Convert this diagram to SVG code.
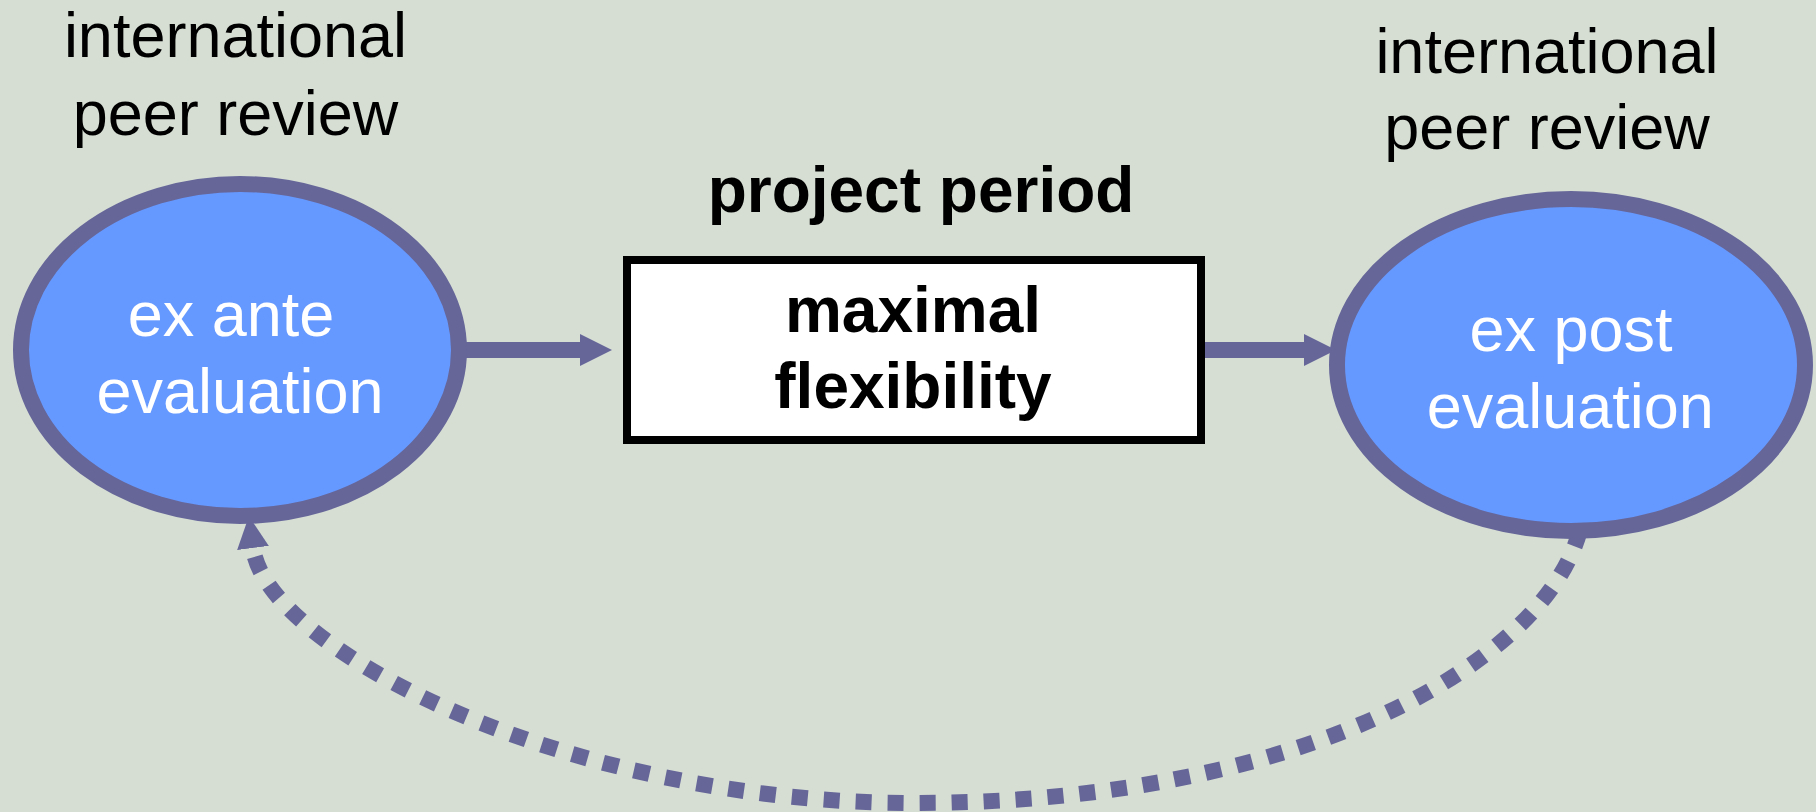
<svg xmlns="http://www.w3.org/2000/svg" width="1816" height="812" viewBox="0 0 1816 812">
<style>
.lbl{font-family:"Liberation Sans",Arial,sans-serif;font-size:63px;fill:#000;text-anchor:middle}
.in{font-family:"Liberation Sans",Arial,sans-serif;font-size:63px;fill:#fff;text-anchor:middle}
.bold{font-family:"Liberation Sans",Arial,sans-serif;font-size:64px;font-weight:bold;fill:#000;text-anchor:middle}
.ell{fill:#6699FF;stroke:#666699;stroke-width:16}
.conn{fill:none;stroke:#666699;stroke-width:16}
.dash{stroke-dasharray:16 16;stroke-dashoffset:23}
</style>
<defs>
<marker id="head" markerUnits="userSpaceOnUse" markerWidth="32" markerHeight="32" refX="0" refY="16" orient="auto-start-reverse" viewBox="0 0 32 32">
<path d="M0,0 L32,16 L0,32 Z" fill="#666699"/>
</marker>
</defs>
<rect width="1816" height="812" fill="#D6DED3"/>
<g id="connectors">
<line class="conn" x1="460" y1="350" x2="580" y2="350" marker-end="url(#head)"/>
<line class="conn" x1="1200" y1="350" x2="1304" y2="350" marker-end="url(#head)"/>
<path class="conn dash" d="M253,548 C266,648 564,803 914,803 C1294,803 1543.6,667 1580,530" marker-start="url(#head)"/>
</g>
<g id="label-left">
<text class="lbl" x="235.5" y="57.3">international</text>
<text class="lbl" x="235.5" y="135">peer review</text>
</g>
<g id="label-right">
<text class="lbl" x="1547" y="72.7">international</text>
<text class="lbl" x="1547" y="149.3">peer review</text>
</g>
<g id="label-project">
<text class="bold" x="921" y="211.7">project period</text>
</g>
<g id="node-exante">
<ellipse class="ell" cx="240" cy="350" rx="219" ry="166"/>
<text class="in" x="231" y="336">ex ante</text>
<text class="in" x="240" y="413.3">evaluation</text>
</g>
<g id="node-flex">
<rect x="627" y="260" width="574" height="180" fill="#fff" stroke="#000" stroke-width="8"/>
<text class="bold" x="913" y="331.7">maximal</text>
<text class="bold" x="913" y="408.3">flexibility</text>
</g>
<g id="node-expost">
<ellipse class="ell" cx="1571" cy="365" rx="234" ry="166"/>
<text class="in" x="1571" y="351">ex post</text>
<text class="in" x="1570.3" y="427.7">evaluation</text>
</g>
</svg>
